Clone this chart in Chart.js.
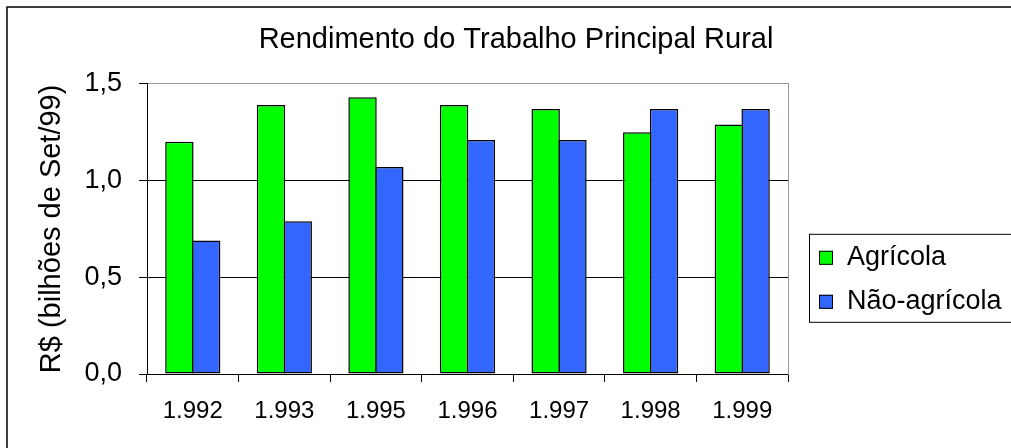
<!DOCTYPE html>
<html>
<head>
<meta charset="utf-8">
<script src="https://cdn.jsdelivr.net/npm/chart.js@4"></script>
<style>
  body { margin: 0; background: #fff; }
  #wrap { width: 1011px; height: 448px; }
</style>
</head>
<body>
<div id="wrap"><canvas id="myChart"></canvas></div>
<script>
const ctx = document.getElementById('myChart');

const anos = ['1.992', '1.993', '1.995', '1.996', '1.997', '1.998', '1.999'];
const agricola = [1.20, 1.39, 1.43, 1.39, 1.37, 1.25, 1.29];
const naoAgricola = [0.69, 0.79, 1.07, 1.21, 1.21, 1.37, 1.37];
const serieNomes = ['Agrícola', 'Não-agrícola'];
const serieCores = ['#00ff00', '#3366ff'];

const fonte = '"Liberation Sans", Arial, sans-serif';

// moldura externa e fundo
const moldura = {
    id: 'moldura',
    beforeDraw(chart) {
        const c = chart.ctx;
        c.save();
        c.fillStyle = '#fff';
        c.fillRect(0, 0, chart.width, chart.height);
        c.strokeStyle = '#000';
        c.lineWidth = 1.5;
        c.strokeRect(7, 7, chart.width + 20, chart.height + 20);
        c.restore();
    }
};

// legenda com caixa, como no original
const legendaCaixa = {
    id: 'legendaCaixa',
    afterDraw(chart) {
        const c = chart.ctx;
        const area = chart.chartArea;
        const x = area.right + 21;
        const y = area.top + 150;
        c.save();
        c.strokeStyle = '#000';
        c.lineWidth = 1;
        c.strokeRect(x + 0.5, y + 0.5, 260, 88);
        c.font = '27px ' + fonte;
        c.textBaseline = 'middle';
        chart.data.datasets.forEach((ds, i) => {
            const cy = y + 24 + i * 44;
            c.fillStyle = ds.backgroundColor;
            c.fillRect(x + 10, cy - 7, 14, 14);
            c.strokeRect(x + 10.5, cy - 6.5, 13, 13);
            c.fillStyle = '#000';
            c.fillText(ds.label, x + 38, cy);
        });
        c.restore();
    }
};

new Chart(ctx, {
    type: 'bar',
    data: {
        labels: anos,
        datasets: [{
            label: serieNomes[0],
            data: agricola,
            backgroundColor: serieCores[0],
            borderColor: '#000',
            borderWidth: 1.5,
            borderSkipped: false,
            categoryPercentage: 0.585,
            barPercentage: 1.06
        }, {
            label: serieNomes[1],
            data: naoAgricola,
            backgroundColor: serieCores[1],
            borderColor: '#000',
            borderWidth: 1.5,
            borderSkipped: false,
            categoryPercentage: 0.585,
            barPercentage: 1.06
        }]
    },
    options: {
        responsive: true,
        maintainAspectRatio: false,
        animation: false,
        layout: {
            padding: { left: 21, right: 0, top: 0, bottom: 0 }
        },
        plugins: {
            legend: { display: false },
            tooltip: { enabled: false },
            title: {
                display: true,
                text: 'Rendimento do Trabalho Principal Rural',
                color: '#000',
                font: { family: fonte, size: 29, weight: 'normal' },
                padding: { top: 23, bottom: 26 }
            }
        },
        scales: {
            x: {
                grid: {
                    display: true,
                    drawOnChartArea: false,
                    offset: true,
                    color: '#000',
                    tickLength: 8
                },
                border: { display: true, color: '#000', width: 1 },
                ticks: {
                    color: '#000',
                    font: { family: fonte, size: 24 },
                    padding: 15,
                    maxRotation: 0
                },
                afterFit: function(scale) {
                    scale.height = 74;
                }
            },
            y: {
                min: 0,
                max: 1.5,
                ticks: {
                    stepSize: 0.5,
                    color: '#000',
                    font: { family: fonte, size: 27 },
                    padding: 17,
                    callback: function(value) {
                        return value.toFixed(1).replace('.', ',');
                    }
                },
                grid: {
                    color: function(c) {
                        return c.tick && c.tick.value === 1.5 ? '#999' : '#000';
                    },
                    tickColor: '#000',
                    tickLength: 8,
                    lineWidth: 1
                },
                border: { display: true, color: '#000', width: 1 },
                title: {
                    display: true,
                    text: 'R$ (bilhões de Set/99)',
                    color: '#000',
                    font: { family: fonte, size: 29 },
                    padding: { top: 14, bottom: 0 }
                },
                afterFit: function(scale) {
                    scale.width = 126;
                }
            },
            direita: {
                type: 'linear',
                position: 'right',
                min: 0,
                max: 1.5,
                ticks: { display: false },
                grid: { display: false },
                border: { display: true, color: '#999', width: 1 },
                afterFit: function(scale) {
                    scale.width = 223;
                }
            }
        }
    },
    plugins: [moldura, legendaCaixa]
});
</script>
</body>
</html>
